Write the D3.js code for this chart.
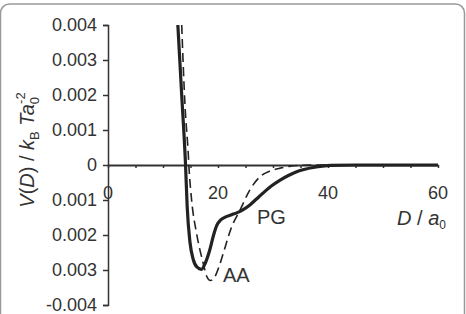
<!DOCTYPE html>
<html>
<head>
<meta charset="utf-8">
<script src="https://cdn.jsdelivr.net/npm/d3@7"></script>
<style>
  body { margin: 0; background: #fff; }
  text { font-family: "Liberation Sans", Arial, sans-serif; fill: #333; }
</style>
</head>
<body>
<div class="container"></div>
<script>
// D (in a0) and V(D) (in kB T a0^-2)
const pgD = [12.7, 13.4, 14.1, 14.4, 14.9, 15.5, 16.2, 17.0, 17.7, 18.5, 19.2, 19.8, 20.5, 21.3, 22.5, 23.5, 24.5, 25.8, 27.0, 28.2, 29.7, 31.3, 32.8, 34.3, 35.8, 37.3, 39.0, 40.5, 45, 60];
const pgV = [0.004, 0.002, 0, -0.0012, -0.0022, -0.0027, -0.00292, -0.00298, -0.0028, -0.00243, -0.002, -0.00172, -0.00157, -0.00149, -0.00142, -0.00136, -0.00128, -0.00114, -0.00097, -0.0008, -0.0006, -0.00043, -0.0003, -0.00019, -0.00012, -0.00007, -0.00003, -0.00001, 0, 0];

const aaD = [13.4, 14.0, 14.6, 14.7, 15.2, 16.1, 17.3, 18.0, 18.6, 19.4, 20.2, 21.0, 22.5, 24.0, 25.8, 27.9, 29.5, 31.3, 33.0, 35.0, 37.0, 60];
const aaV = [0.004, 0.0017, 0.0003, 0, -0.001, -0.00195, -0.0028, -0.0032, -0.0033, -0.0032, -0.0029, -0.0025, -0.00176, -0.00129, -0.00071, -0.0003, -0.00017, -0.00009, -0.00004, -0.00001, 0, 0];

const yTicks = [0.004, 0.003, 0.002, 0.001, 0, -0.001, -0.002, -0.003, -0.004];
const yTickLabels = ["0.004", "0.003", "0.002", "0.001", "0", "0.001", "0.002", "0.003", "-0.004"];
const xTicks = [0, 20, 40, 60];
const xMinorTicks = d3.range(0, 61, 5);

const width = 466, height = 314;

const svg = d3.select('.container')
  .append('svg')
  .attr('width', width)
  .attr('height', height);

// rounded frame
svg.append('rect')
  .attr('x', 0.5).attr('y', 4)
  .attr('width', 464).attr('height', 330)
  .attr('rx', 9)
  .attr('fill', 'none')
  .attr('stroke', '#999')
  .attr('stroke-width', 1.5);

let x = d3.scaleLinear().domain([0, 60]).range([108, 438]);
let y = d3.scaleLinear().domain([-0.004, 0.004]).range([305, 25]);

// y axis
let yAxis = d3.axisLeft(y).tickValues(yTicks).tickSize(5).tickPadding(6)
  .tickFormat((d, i) => yTickLabels[i]);
let gy = svg.append('g')
  .attr('transform', 'translate(' + x(0) + ',0)')
  .call(yAxis);
gy.select('.domain').attr('stroke', '#333').attr('stroke-width', 1.5);
gy.selectAll('.tick line').attr('stroke', '#333').attr('stroke-width', 1.5);
gy.selectAll('.tick text').style('font-size', '18px').attr('fill', '#333');

// x axis (at V = 0)
let xAxis = d3.axisBottom(x).tickValues(xMinorTicks).tickSize(3).tickSizeOuter(0)
  .tickFormat('');
let gx = svg.append('g')
  .attr('transform', 'translate(0,' + y(0) + ')')
  .call(xAxis);
gx.select('.domain').attr('stroke', '#333').attr('stroke-width', 2);
gx.selectAll('.tick line').attr('stroke', '#333').attr('stroke-width', 1.5);

svg.append('g').selectAll('text')
  .data(xTicks)
  .enter().append('text')
  .attr('x', d => x(d))
  .attr('y', y(0) + 34)
  .attr('text-anchor', 'middle')
  .style('font-size', '18px')
  .text(d => d);

// curves
let line = d3.line()
  .x(d => x(d[0]))
  .y(d => y(d[1]))
  .curve(d3.curveMonotoneX);

svg.append('path')
  .datum(aaD.map((d, i) => [d, aaV[i]]))
  .attr('d', line)
  .attr('fill', 'none')
  .attr('stroke', '#222')
  .attr('stroke-width', 1.6)
  .attr('stroke-dasharray', '9,5');

svg.append('path')
  .datum(pgD.map((d, i) => [d, pgV[i]]))
  .attr('d', line)
  .attr('fill', 'none')
  .attr('stroke', '#222')
  .attr('stroke-width', 3.2)
  .attr('stroke-linejoin', 'round');

// curve labels
svg.append('text').attr('x', 257).attr('y', 224).style('font-size', '20px').text('PG');
svg.append('text').attr('x', 223).attr('y', 282).style('font-size', '20px').text('AA');

// x label
let xl = svg.append('text')
  .attr('x', 446).attr('y', 225)
  .attr('text-anchor', 'end')
  .style('font-size', '20px');
xl.append('tspan').style('font-style', 'italic').text('D');
xl.append('tspan').text(' / ');
xl.append('tspan').style('font-style', 'italic').text('a');
xl.append('tspan').attr('dy', 4).style('font-size', '12px').text('0');

// y label
let yl = svg.append('text')
  .attr('transform', 'translate(34,150) rotate(-90)')
  .attr('text-anchor', 'middle')
  .style('font-size', '20px');
yl.append('tspan').style('font-style', 'italic').text('V');
yl.append('tspan').text('(');
yl.append('tspan').style('font-style', 'italic').text('D');
yl.append('tspan').text(') / ');
yl.append('tspan').style('font-style', 'italic').text('k');
yl.append('tspan').attr('dy', 5).style('font-size', '13px').text('B');
yl.append('tspan').attr('dy', -5).text(' ');
yl.append('tspan').style('font-style', 'italic').text('Ta');
yl.append('tspan').attr('dy', 5).style('font-size', '13px').text('0');
yl.append('tspan').attr('dx', -7).attr('dy', -14).style('font-size', '13px').text('-2');
</script>
</body>
</html>
